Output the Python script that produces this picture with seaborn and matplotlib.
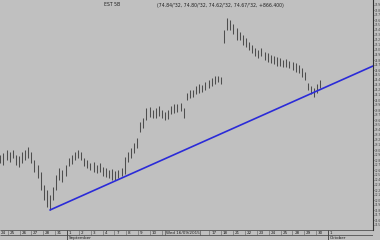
import numpy as np
import pandas as pd
import matplotlib
matplotlib.use("Agg")
import matplotlib.pyplot as plt
import seaborn as sns

# ---------------- data ----------------
bar_high = [
    72.90, 72.94, 73.00, 72.96, 73.00, 72.90, 72.88, 72.96, 73.00, 73.06,
    72.96, 72.80, 72.70, 72.56, 72.30, 72.20, 72.10, 72.26, 72.50, 72.64,
    72.60, 72.70, 72.84, 72.90, 72.96, 73.00, 72.96, 72.84, 72.80, 72.74,
    72.76, 72.70, 72.74, 72.66, 72.64, 72.60, 72.62, 72.58, 72.60, 72.64,
    72.86, 72.96, 73.04, 73.14, 73.24, 73.56, 73.64, 73.84, 73.86, 73.80,
    73.84, 73.88, 73.80, 73.76, 73.80, 73.88, 73.92, 73.92, 73.94, 73.84,
    74.14, 74.20, 74.20, 74.28, 74.32, 74.30, 74.36, 74.40, 74.44, 74.48,
    74.48, 74.46, 75.40, 75.64, 75.60, 75.52, 75.44, 75.36, 75.30, 75.24,
    75.16, 75.10, 75.04, 75.00, 75.04, 74.96, 74.94, 74.90, 74.88, 74.86,
    74.84, 74.80, 74.82, 74.78, 74.76, 74.74, 74.70, 74.64, 74.56, 74.34,
    74.28, 74.24, 74.32, 74.40,
]
bar_low = [
    72.74, 72.70, 72.80, 72.76, 72.84, 72.70, 72.66, 72.74, 72.80, 72.84,
    72.74, 72.56, 72.44, 72.20, 72.00, 71.86, 71.80, 72.00, 72.20, 72.40,
    72.36, 72.48, 72.68, 72.72, 72.80, 72.84, 72.80, 72.68, 72.64, 72.60,
    72.56, 72.54, 72.56, 72.48, 72.46, 72.44, 72.40, 72.40, 72.44, 72.48,
    72.52, 72.76, 72.84, 72.94, 73.04, 73.36, 73.44, 73.60, 73.66, 73.64,
    73.64, 73.68, 73.64, 73.60, 73.62, 73.72, 73.74, 73.76, 73.78, 73.64,
    74.00, 74.04, 74.06, 74.12, 74.14, 74.16, 74.20, 74.24, 74.28, 74.32,
    74.36, 74.32, 75.14, 75.40, 75.40, 75.32, 75.20, 75.20, 75.10, 75.06,
    75.00, 74.94, 74.88, 74.84, 74.88, 74.80, 74.76, 74.74, 74.72, 74.68,
    74.68, 74.66, 74.66, 74.64, 74.60, 74.56, 74.54, 74.46, 74.40, 74.20,
    74.12, 74.06, 74.14, 74.24,
]
trend_days = [4.567, 31.79]
trend_prices = [71.80, 74.68]

aug_labels = ["24", "25", "26", "27", "28", "31"]
sep_labels = ["1", "2", "3", "4", "7", "8", "9", "10", "11", "14", "15",
              "16", "17", "18", "21", "22", "23", "24", "25", "28", "29", "30"]
oct_labels = ["1"]
month_names = ["September", "October"]
title_symbol = "EST 5B"
title_values = "(74.84/'32, 74.80/'32, 74.62/'32, 74.67/'32, +866.400)"
crosshair_label = "Wed 16/09/2015"

# ---------------- layout / style ----------------
BG = "#c0c0c0"
BAR = "#4e4e4e"
BLUE = "#2b2bd8"
W, H = 380, 240
X_LEFT, X_RIGHT = 0.353, 31.79
FIRST_BAR, BAR_STEP = 0.378, 0.262
Y_LOW, Y_HIGH = 71.40, 76.00
CROSS_X = 15.74
CROSS_HIDDEN = (14, 17)   # day slots covered by the crosshair date box

sns.set_theme(style="white", rc={"axes.facecolor": BG, "figure.facecolor": BG,
                                 "savefig.facecolor": BG})
plt.rcParams["font.family"] = ["DejaVu Sans"]

fig = plt.figure(figsize=(W / 100, H / 100), dpi=100)
ax = fig.add_axes([0, 10 / H, 373 / W, 230 / H])
strip = fig.add_axes([0, 0, 373 / W, 10 / H])

# price bars
bar_x = FIRST_BAR + np.arange(len(bar_high)) * BAR_STEP
ax.vlines(bar_x, bar_low, bar_high, color=BAR, lw=0.75)

# trend line
trend = pd.DataFrame({"day": trend_days, "price": trend_prices})
sns.lineplot(data=trend, x="day", y="price", color=BLUE, lw=1.2, ax=ax)

ax.set_xlim(X_LEFT, X_RIGHT)
ax.set_ylim(Y_LOW, Y_HIGH)
ax.set_xlabel("")
ax.set_ylabel("")
ax.set_xticks([])
for s in ["left", "top", "bottom"]:
    ax.spines[s].set_visible(False)
ax.spines["right"].set_color("#303030")
ax.spines["right"].set_linewidth(0.8)
ax.yaxis.tick_right()
ticks = np.round(np.arange(71.5, 76.0, 0.1), 2)
ax.set_yticks(ticks)
ax.set_yticklabels([f"{t:.1f}" for t in ticks])
ax.tick_params(axis="y", labelsize=2, length=1.0, width=0.4, pad=0.3,
               colors="#303030", right=True)

# title texts
fig.text(104 / W, 1 - 5 / H, title_symbol, fontsize=3.3, color="#202020", va="center")
fig.text(157 / W, 1 - 5 / H, title_values, fontsize=3.3, color="#202020", va="center")

# date strip
strip.set_xlim(X_LEFT, X_RIGHT)
strip.set_ylim(10, 0)
strip.axis("off")
strip.hlines([0, 5], X_LEFT, X_RIGHT, color="#505050", lw=0.6)
all_labels = aug_labels + sep_labels + oct_labels
for i, lab in enumerate(all_labels):
    strip.vlines(i, 0, 5, color="#606060", lw=0.4)
    if CROSS_HIDDEN[0] <= i <= CROSS_HIDDEN[1]:
        continue
    strip.text(max(i + 0.15, X_LEFT + 0.08), 2.6, lab, fontsize=3, color="#202020",
               ha="left", va="center")
sep_start = len(aug_labels)
oct_start = len(aug_labels) + len(sep_labels)
for d, name in zip([sep_start, oct_start], month_names):
    strip.vlines(d, 0, 10, color="#404040", lw=0.6)
    strip.text(d + 0.17, 8.2, name, fontsize=3, color="#202020", ha="left", va="center")
strip.text(CROSS_X, 2.6, crosshair_label, fontsize=3, color="#202020", ha="center",
           va="center", bbox=dict(boxstyle="square,pad=0.2", fc=BG, ec="#404040", lw=0.4))

fig.savefig("out.png", dpi=100, facecolor=BG)
